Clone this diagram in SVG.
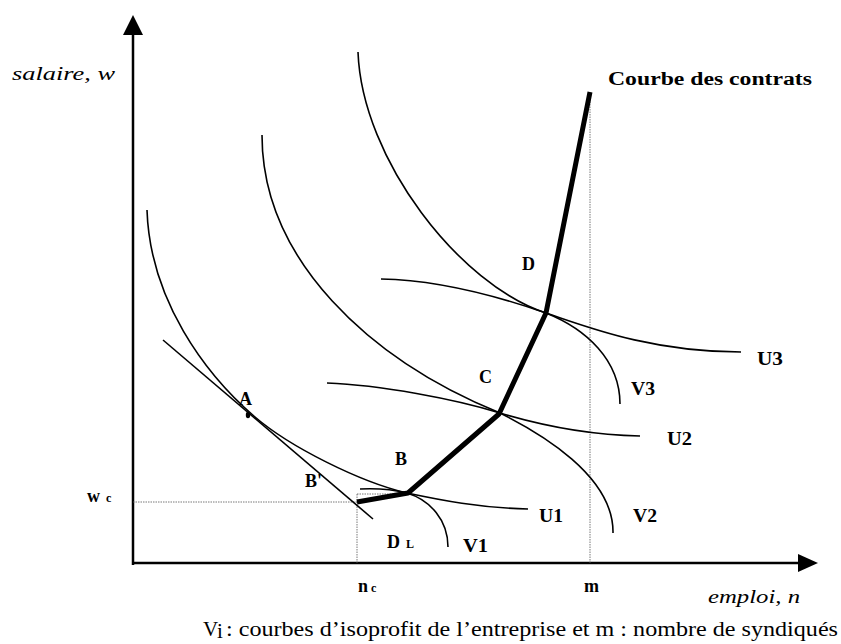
<svg xmlns="http://www.w3.org/2000/svg" width="841" height="644" viewBox="0 0 841 644">
<style>
.ax{stroke:#000;stroke-width:2.5;fill:none}
.cv{stroke:#000;stroke-width:1.6;fill:none}
.dot{stroke:#555;stroke-width:0.8;stroke-dasharray:1.5 1;fill:none}
.thick{stroke:#000;stroke-width:5;fill:none;stroke-linejoin:round}
.lb{font-family:"Liberation Serif","Times New Roman",serif;font-weight:bold;font-size:18px;fill:#000}
.sm{font-family:"Liberation Serif","Times New Roman",serif;font-weight:bold;font-size:12px;fill:#000}
.it{font-family:"Liberation Serif","Times New Roman",serif;font-style:italic;font-size:18px;fill:#000}
.rg{font-family:"Liberation Serif","Times New Roman",serif;font-size:21px;fill:#000}
</style>
<rect width="841" height="644" fill="#fff"/>
<g id="axes">
<line class="ax" x1="133" y1="565" x2="133" y2="32"/>
<polygon points="133,15 123,35 143,35" fill="#000"/>
<line class="ax" x1="132" y1="563" x2="800" y2="563"/>
<polygon points="818,563 798,554 798,572" fill="#000"/>
</g>
<g id="guides">
<line class="dot" x1="133" y1="502" x2="357" y2="502"/>
<line class="dot" x1="357" y1="563" x2="357" y2="494"/>
<line class="dot" x1="357" y1="494" x2="400" y2="494"/>
<line class="dot" x1="590" y1="563" x2="590" y2="95"/>
</g>
<g id="demand-line">
<line class="cv" x1="163" y1="340" x2="373" y2="519"/>
<ellipse cx="248" cy="415" rx="2.2" ry="3.2" fill="#000"/>
</g>
<g id="U1"><path class="cv" d="M147,210 C150,300 205,374 255,417 C290,447 360,482 407,493 C440,500 480,508 528,509"/></g>
<g id="V1"><path class="cv" d="M360,489 C380,488 395,490 407,493 C430,500 448,520 448,547"/></g>
<g id="U2"><path class="cv" d="M327,383 C380,385 455,399 500,413 C540,425 590,435 640,436"/></g>
<g id="V2"><path class="cv" d="M262,135 C262,260 370,360 500,413 C540,433 614,476 613,533"/></g>
<g id="U3"><path class="cv" d="M381,279 C440,280 500,297 546,313 C585,326 650,352 741,352"/></g>
<g id="V3"><path class="cv" d="M358,52 C362,160 460,285 546,313 C586,329 620,360 620,404"/></g>
<g id="contract-curve"><polyline class="thick" points="357,502 408,493 499,414 546,313 590,92"/></g>
<g id="labels">
<text class="it" x="12" y="80" textLength="103" lengthAdjust="spacingAndGlyphs">salaire, w</text>
<text class="it" x="708" y="603" textLength="92" lengthAdjust="spacingAndGlyphs">emploi, n</text>
<text class="lb" x="608" y="85" textLength="204" lengthAdjust="spacingAndGlyphs">Courbe des contrats</text>
<text class="lb" x="239" y="405">A</text>
<text class="lb" x="305" y="487">B'</text>
<text class="lb" x="395" y="465">B</text>
<text class="lb" x="479" y="383">C</text>
<text class="lb" x="522" y="270">D</text>
<text class="lb" x="387" y="548">D</text><text class="sm" x="406" y="548">L</text>
<text class="lb" x="463" y="552" textLength="25" lengthAdjust="spacingAndGlyphs">V1</text>
<text class="lb" x="539" y="522" textLength="24" lengthAdjust="spacingAndGlyphs">U1</text>
<text class="lb" x="633" y="522" textLength="24" lengthAdjust="spacingAndGlyphs">V2</text>
<text class="lb" x="667" y="445" textLength="25" lengthAdjust="spacingAndGlyphs">U2</text>
<text class="lb" x="631" y="395" textLength="24" lengthAdjust="spacingAndGlyphs">V3</text>
<text class="lb" x="757" y="365" textLength="26" lengthAdjust="spacingAndGlyphs">U3</text>
<text class="lb" x="584" y="592">m</text>
<text class="lb" x="358" y="592">n</text><text class="sm" x="371" y="592">c</text>
<text class="lb" x="87" y="502">w</text><text class="sm" x="106" y="502">c</text>
<text class="rg" x="203" y="636">V</text><text class="rg" x="217" y="638" font-size="10">i</text>
<text class="rg" x="226" y="636" textLength="612" lengthAdjust="spacingAndGlyphs">: courbes d’isoprofit de l’entreprise et m : nombre de syndiqués</text>
</g>
</svg>
